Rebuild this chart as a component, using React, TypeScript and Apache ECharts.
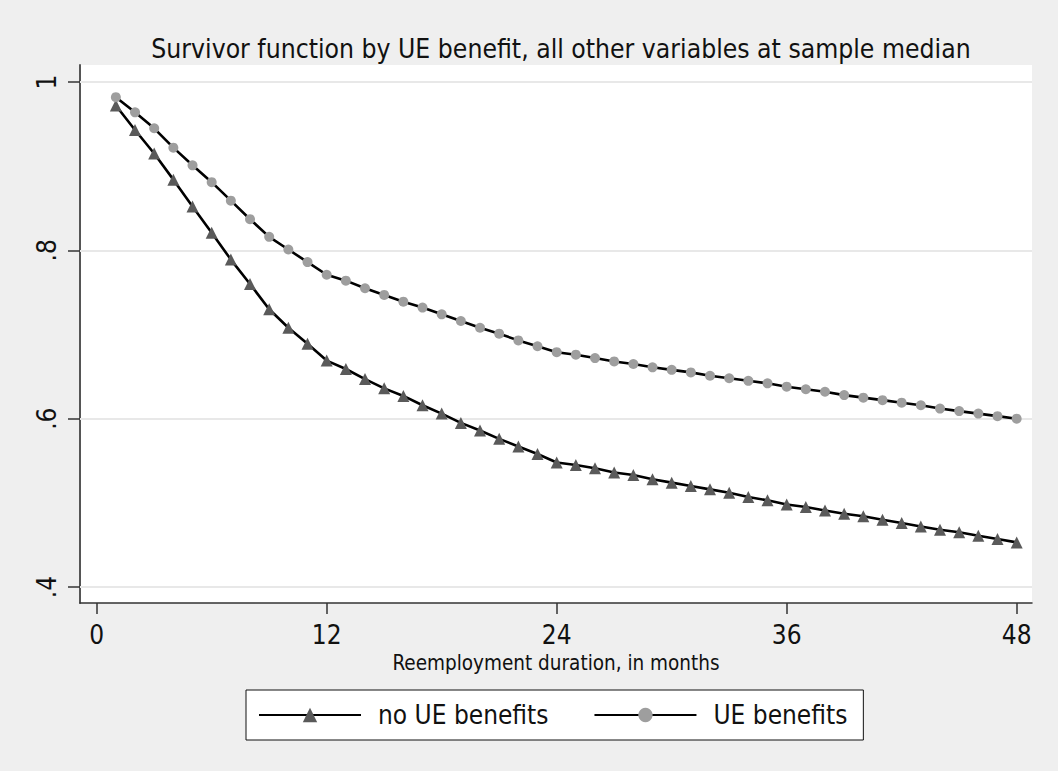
import React, { useEffect, useRef } from "react";
import * as echarts from "echarts";

const TITLE = "Survivor function by UE benefit, all other variables at sample median";
const X_TITLE = "Reemployment duration, in months";
const SERIES_NAMES = ["no UE benefits", "UE benefits"];

const months = [
  1, 2, 3, 4, 5, 6, 7, 8, 9, 10, 11, 12, 13, 14, 15, 16, 17, 18, 19, 20, 21, 22, 23, 24,
  25, 26, 27, 28, 29, 30, 31, 32, 33, 34, 35, 36, 37, 38, 39, 40, 41, 42, 43, 44, 45, 46, 47, 48,
];

const noUEBenefits = [
  0.972, 0.943, 0.915, 0.884, 0.852, 0.821, 0.789, 0.76, 0.73, 0.708, 0.689, 0.669,
  0.659, 0.647, 0.636, 0.627, 0.616, 0.606, 0.595, 0.586, 0.576, 0.567, 0.558, 0.548,
  0.545, 0.541, 0.536, 0.533, 0.528, 0.524, 0.52, 0.516, 0.512, 0.507, 0.503, 0.498,
  0.495, 0.491, 0.487, 0.484, 0.48, 0.476, 0.472, 0.468, 0.465, 0.461, 0.457, 0.453,
];

const ueBenefits = [
  0.982, 0.964, 0.945, 0.922, 0.901, 0.881, 0.859, 0.837, 0.816, 0.801, 0.786, 0.771,
  0.764, 0.755, 0.747, 0.739, 0.732, 0.724, 0.716, 0.708, 0.701, 0.693, 0.686, 0.679,
  0.676, 0.672, 0.668, 0.665, 0.661, 0.658, 0.655, 0.651, 0.648, 0.645, 0.642, 0.638,
  0.635, 0.632, 0.628, 0.625, 0.622, 0.619, 0.616, 0.612, 0.609, 0.606, 0.603, 0.6,
];

const xTicks = [0, 12, 24, 36, 48];
const yTicks = [0.4, 0.6, 0.8, 1];
const yTickLabels = [".4", ".6", ".8", "1"];

const FONT = "'Liberation Sans Narrow', 'DejaVu Sans Condensed', sans-serif";

export default function App() {
  const ref = useRef<HTMLDivElement>(null);

  useEffect(() => {
    document.body.style.margin = "0";
    if (!ref.current) return;
    const chart = echarts.init(ref.current, undefined, { renderer: "svg" });
    const axisColor = "#333";
    chart.setOption({
      animation: false,
      backgroundColor: "#EFEFEF",
      textStyle: { fontFamily: FONT },
      title: {
        text: TITLE,
        left: 556,
        top: 31,
        textAlign: "center",
        textStyle: { fontFamily: FONT, fontSize: 26.3, fontWeight: "normal", color: "#111" },
      },
      grid: {
        left: 80,
        right: 26,
        top: 65,
        bottom: 168,
        show: true,
        backgroundColor: "#FFFFFF",
        borderWidth: 0,
      },
      legend: {
        left: 246,
        top: 690,
        orient: "horizontal",
        backgroundColor: "#FFFFFF",
        borderColor: "#111",
        borderWidth: 1,
        padding: [12, 16, 12, 12],
        itemWidth: 102,
        itemHeight: 18,
        itemGap: 45,
        textStyle: { fontFamily: FONT, fontSize: 26, color: "#111", padding: [0, 0, 0, 12] },
        data: SERIES_NAMES,
      },
      xAxis: {
        type: "value",
        min: -0.871,
        max: 48.8,
        name: X_TITLE,
        nameLocation: "middle",
        nameGap: 48,
        nameTextStyle: { fontFamily: FONT, fontSize: 20.5, color: "#111" },
        axisLine: { show: true, onZero: false, lineStyle: { color: axisColor, width: 1.5 } },
        axisTick: { show: true, customValues: xTicks, length: 11, lineStyle: { color: axisColor, width: 1.5 } },
        axisLabel: { customValues: xTicks, margin: 19, fontSize: 26, color: "#111", fontFamily: FONT },
        splitLine: { show: false },
      },
      yAxis: {
        type: "value",
        min: 0.381,
        max: 1.0202,
        axisLine: { show: true, onZero: false, lineStyle: { color: "#555", width: 2 } },
        axisTick: { show: true, customValues: yTicks, length: 12, lineStyle: { color: axisColor, width: 1.5 } },
        axisLabel: {
          customValues: yTicks,
          rotate: 90,
          margin: 20,
          fontSize: 26,
          color: "#111",
          fontFamily: FONT,
          formatter: (v: number) => {
            const i = yTicks.findIndex((t) => Math.abs(t - v) < 1e-6);
            return i >= 0 ? yTickLabels[i] : "";
          },
        },
        splitLine: { show: false },
      },
      series: [
        {
          name: SERIES_NAMES[0],
          type: "line",
          data: months.map((m, i) => [m, noUEBenefits[i]]),
          symbol: "triangle",
          symbolSize: 12,
          showSymbol: true,
          itemStyle: { color: "#5A5A5A" },
          lineStyle: { color: "#000", width: 2.6 },
          emphasis: { disabled: true },
          markLine: {
            silent: true,
            z: 1,
            symbol: "none",
            label: { show: false },
            lineStyle: { color: "#E8E8E8", width: 2, type: "solid" },
            data: yTicks.map((v) => ({ yAxis: v })),
          },
        },
        {
          name: SERIES_NAMES[1],
          type: "line",
          data: months.map((m, i) => [m, ueBenefits[i]]),
          symbol: "circle",
          symbolSize: 10,
          showSymbol: true,
          itemStyle: { color: "#9E9E9E" },
          lineStyle: { color: "#000", width: 2.6 },
          emphasis: { disabled: true },
        },
      ],
    });
    return () => chart.dispose();
  }, []);

  return <div ref={ref} style={{ width: 1058, height: 771 }} />;
}
